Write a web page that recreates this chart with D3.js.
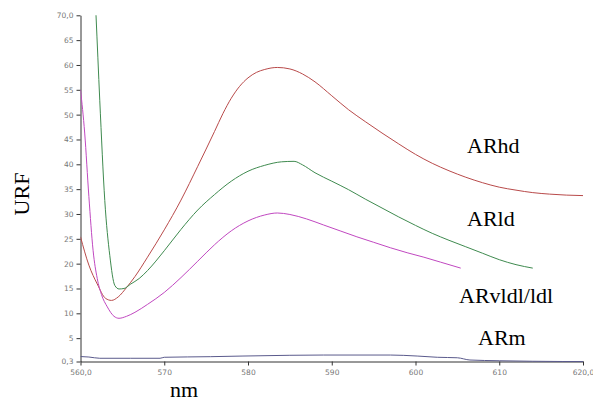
<!DOCTYPE html>
<html>
<head>
<meta charset="utf-8">
<script src="https://cdn.jsdelivr.net/npm/d3@7"></script>
<style>
  body { margin: 0; background: #fff; }
  .tick text { font-family: "DejaVu Sans", Arial, sans-serif; font-size: 7.5px; fill: #777; }
  .lbl { font-family: "Liberation Serif", "Times New Roman", serif; fill: #000; }
</style>
</head>
<body>
<svg id="chart" width="593" height="401"></svg>
<script>
// wavelength (nm) / URF readings per curve
var hdNm  = [560, 561, 562, 563, 563.7, 564.5, 565.5, 566.5, 568, 570, 572, 574, 576, 577, 578, 579, 580, 581, 582, 583.5, 585, 586.5, 588, 590, 592, 594, 596, 598, 600, 602, 604, 606, 608, 610, 612, 614, 616, 618, 620];
var hdVal = [25.4, 19.7, 15.9, 13.0, 12.6, 13.3, 15.2, 17.4, 21.3, 26.8, 32.8, 39.6, 46.6, 50.2, 53.3, 55.7, 57.4, 58.5, 59.1, 59.5, 59.2, 58.2, 56.6, 53.8, 51.0, 48.6, 46.3, 44.1, 42.0, 40.2, 38.7, 37.4, 36.3, 35.4, 34.8, 34.3, 34.0, 33.8, 33.7];

var ldNm  = [561.5, 561.85, 562.3, 562.9, 563.5, 564.1, 564.6, 565.2, 566, 567, 568, 570, 572, 574, 576, 578, 580, 582, 584, 585.5, 586.5, 588, 590, 592, 594, 596, 598, 600, 602, 604, 606, 608, 610, 612, 614];
var ldVal = [83, 70.1, 52.9, 32.7, 21.6, 15.6, 14.9, 15.0, 15.9, 17.0, 18.6, 22.6, 26.9, 30.8, 33.9, 36.6, 38.6, 39.8, 40.5, 40.6, 39.9, 38.3, 36.6, 34.9, 33.0, 31.2, 29.4, 27.7, 26.1, 24.7, 23.4, 22.1, 20.8, 19.8, 19.1];

var vldlNm  = [560, 560.5, 561, 561.5, 562, 562.5, 563.2, 564, 564.6, 565.5, 566.5, 568, 570, 572, 574, 576, 578, 580, 582, 583.5, 585, 587, 589, 591, 593, 595, 597, 599, 601, 603, 605.4];
var vldlVal = [55.0, 46.3, 33.5, 22.7, 17.0, 13.8, 11.3, 9.4, 9.0, 9.4, 10.2, 11.8, 14.2, 17.2, 20.5, 23.8, 26.6, 28.6, 29.8, 30.2, 29.9, 29.0, 27.8, 26.6, 25.4, 24.3, 23.2, 22.2, 21.3, 20.3, 19.1];

var mNm  = [560, 561, 562.3, 566, 569.5, 570, 575.5, 579.4, 585, 589, 597, 600.2, 602.6, 605, 606.5, 610, 614, 617.6, 620];
var mVal = [1.3, 1.2, 0.95, 0.95, 0.95, 1.15, 1.27, 1.4, 1.55, 1.6, 1.6, 1.4, 1.15, 1.05, 0.6, 0.45, 0.35, 0.3, 0.3];

var yTicks = [0.3, 5, 10, 15, 20, 25, 30, 35, 40, 45, 50, 55, 60, 65, 70];
var xTicks = [560, 570, 580, 590, 600, 610, 620];

var series = [
    {name: 'ARhd', nm: hdNm, val: hdVal, c: '#b84a4a'},
    {name: 'ARld', nm: ldNm, val: ldVal, c: '#3f8a4f'},
    {name: 'ARvldl/ldl', nm: vldlNm, val: vldlVal, c: '#c048c0'},
    {name: 'ARm', nm: mNm, val: mVal, c: '#5a5a8c'}
];

var labels = [
    {t: 'ARhd', x: 467, y: 153},
    {t: 'ARld', x: 467, y: 226},
    {t: 'ARvldl/ldl', x: 459, y: 303},
    {t: 'ARm', x: 478, y: 345}
];

var svg = d3.select('#chart');
var x = d3.scaleLinear().domain([560, 620]).range([80.5, 583]);
var y = d3.scaleLinear().domain([0.3, 70]).range([361.5, 15.3]);

function fmt(v) {
    if (v === 70 || v === 560 || v === 620) return d3.format('.1f')(v).replace('.', ',');
    if (v === 0.3) return '0,3';
    return String(v);
}

svg.append('clipPath').attr('id', 'clip')
    .append('rect')
    .attr('x', x(560)).attr('y', y(70))
    .attr('width', x(620) - x(560)).attr('height', y(0.3) - y(70) + 1);

// axes
var xAxis = svg.append('g')
    .attr('transform', 'translate(0,' + y(0.3) + ')')
    .call(d3.axisBottom(x).tickValues(xTicks).tickFormat(fmt).tickSize(4).tickSizeOuter(0));
var yAxis = svg.append('g')
    .attr('transform', 'translate(' + x(560) + ',0)')
    .call(d3.axisLeft(y).tickValues(yTicks).tickFormat(fmt).tickSize(4).tickSizeOuter(0));
svg.selectAll('.domain').attr('stroke', '#333');
svg.selectAll('.tick line').attr('stroke', '#333');
xAxis.selectAll('.tick text').attr('dy', '0.9em');

// curves
var line = d3.line()
    .x(function (d) { return x(d[0]); })
    .y(function (d) { return y(d[1]); })
    .curve(d3.curveMonotoneX);

svg.append('g').attr('clip-path', 'url(#clip)')
    .selectAll('path')
    .data(series)
    .enter()
    .append('path')
    .attr('fill', 'none')
    .attr('stroke', function (d) { return d.c; })
    .attr('stroke-width', 1)
    .attr('d', function (d) { return line(d3.zip(d.nm, d.val)); });

// series names
svg.selectAll('text.lbl.name')
    .data(labels)
    .enter()
    .append('text')
    .attr('class', 'lbl name')
    .attr('x', function (d) { return d.x; })
    .attr('y', function (d) { return d.y; })
    .attr('font-size', 22)
    .text(function (d) { return d.t; });

// axis titles
svg.append('text')
    .attr('class', 'lbl')
    .attr('font-size', 22)
    .attr('text-anchor', 'middle')
    .attr('transform', 'translate(29,194) rotate(-90)')
    .text('URF');

svg.append('text')
    .attr('class', 'lbl')
    .attr('font-size', 22)
    .attr('x', 170)
    .attr('y', 397)
    .text('nm');
</script>
</body>
</html>
